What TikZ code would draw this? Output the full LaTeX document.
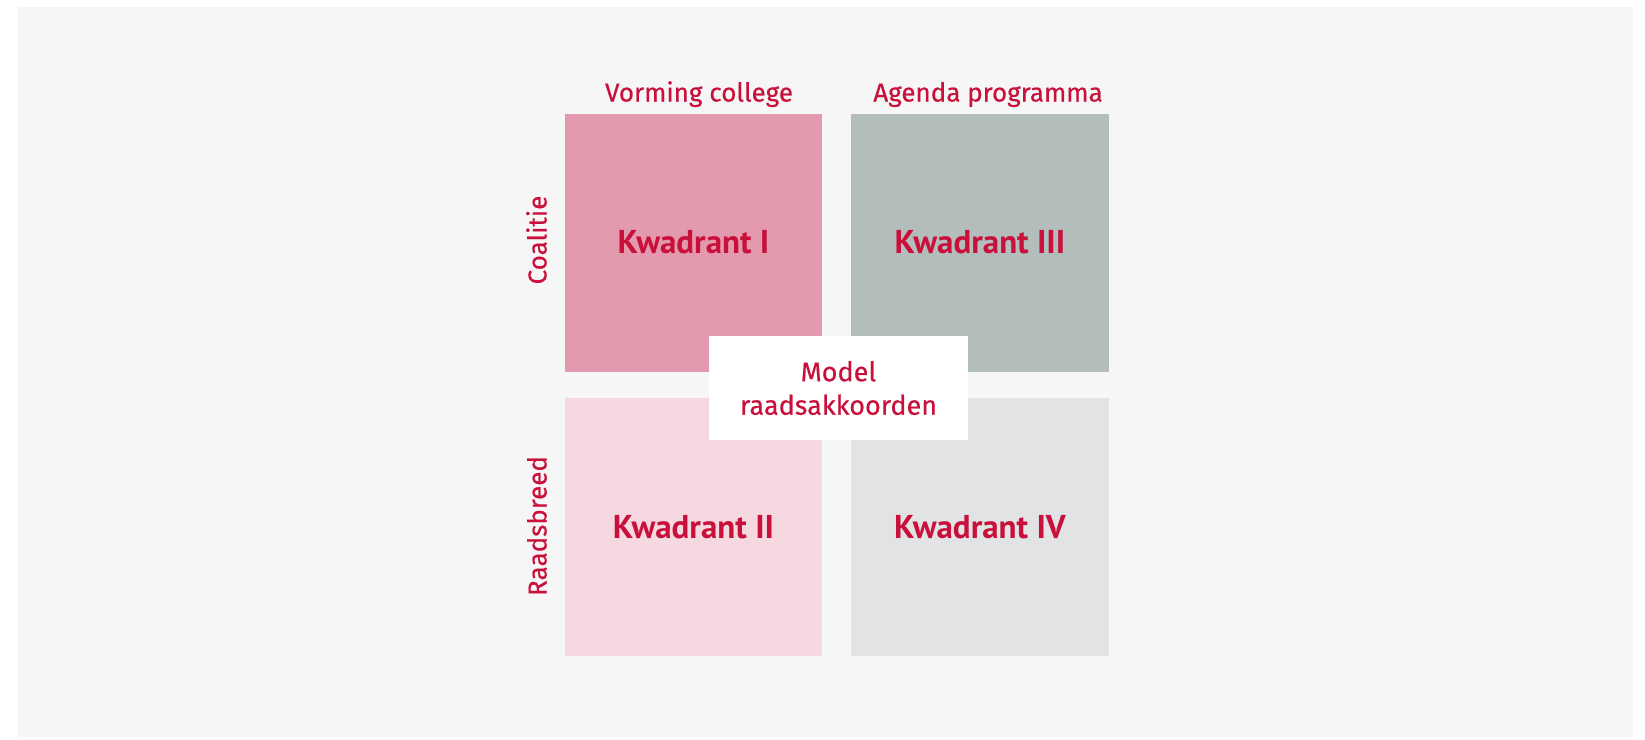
\documentclass[tikz,border=0pt]{standalone}
\usepackage{fontspec}
\setmainfont{PT Sans}
\newfontfamily\lblfont[FakeBold=0.4]{Fira Sans}
\definecolor{accent}{RGB}{200,16,58}
\definecolor{panelbg}{RGB}{246,246,246}
\definecolor{qone}{RGB}{227,154,174}
\definecolor{qtwo}{RGB}{245,216,224}
\definecolor{qthree}{RGB}{178,189,188}
\definecolor{qfour}{RGB}{226,227,229}
\begin{document}
\begin{tikzpicture}[x=1pt,y=-1pt,
  quad/.style={anchor=north west,inner sep=0pt,minimum width=257.5pt,minimum height=258pt,
    text=accent,font=\bfseries\fontsize{33}{36}\selectfont},
  axislabel/.style={text=accent,inner sep=0pt,anchor=base,font=\lblfont\fontsize{26}{30}\selectfont},
  centerbox/.style={fill=white,inner sep=0pt,minimum width=259pt,minimum height=104pt,
    text=accent,align=center,font=\lblfont\fontsize{27}{33.5}\selectfont}]
  \useasboundingbox[fill=white] (0,0) rectangle (1645,739);
  \fill[panelbg] (18,7) rectangle (1633,737);
  \node[quad,fill=qone]   (q1) at (564.5,113.3) {Kwadrant I};
  \node[quad,fill=qthree] (q3) at (851,113.3)   {Kwadrant III};
  \node[quad,fill=qtwo]   (q2) at (564.5,398)   {Kwadrant II};
  \node[quad,fill=qfour]  (q4) at (851,398)     {Kwadrant IV};
  \node[centerbox] (model) at (838.5,388) {Model\\raadsakkoorden};
  \node[axislabel] (vc) at (699,101.5) {Vorming college};
  \node[axislabel] (ap) at (988,101.5) {Agenda programma};
  \node[axislabel,rotate=90] (co) at (546.5,240) {Coalitie};
  \node[axislabel,rotate=90] (rb) at (546.5,526) {Raadsbreed};
\end{tikzpicture}
\end{document}
